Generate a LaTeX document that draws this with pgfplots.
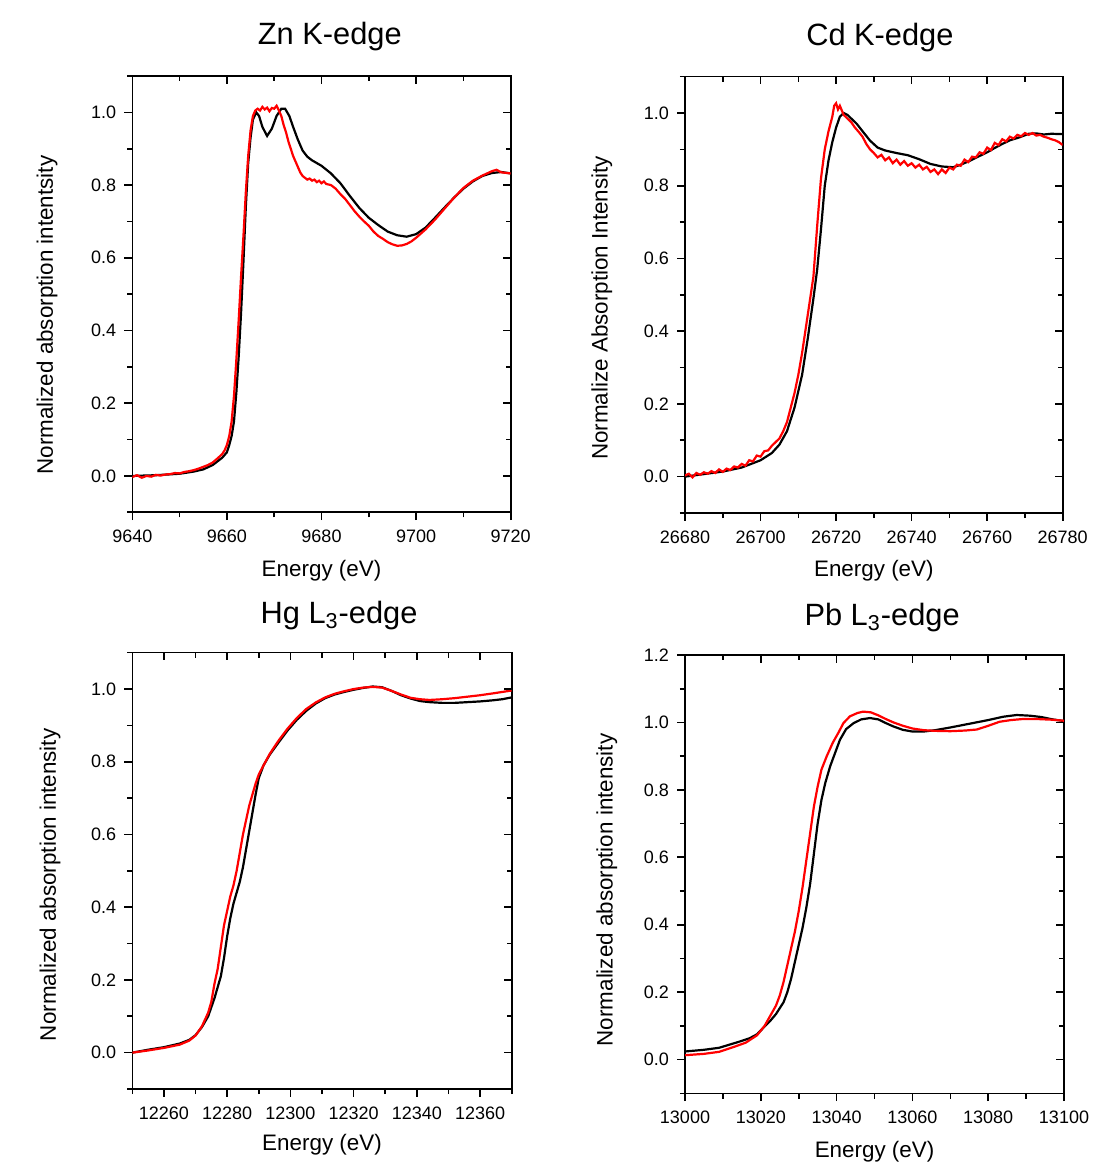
\documentclass[border=0pt]{standalone}
\usepackage{fontspec}
\setmainfont{Liberation Sans}
\usepackage{pgfplots}
\pgfplotsset{compat=1.18}
\pgfplotsset{
  common/.style={
    scale only axis,
    axis line style={line width=0.8pt},
    every tick/.style={black, line width=0.8pt},
    major tick length=3.9pt,
    minor tick length=2.6pt,
    scaled ticks=false,
    /pgf/number format/assume math mode=true,
    /pgf/number format/set thousands separator={},
  },
  mainax/.style={
    common,
    tick pos=left, tick align=outside,
    ticklabel style={font=\fontsize{9}{11}\selectfont},
    xticklabel style={yshift=-1.5pt, /pgf/number format/fixed, /pgf/number format/precision=0},
    yticklabel style={xshift=-0.6pt, /pgf/number format/fixed, /pgf/number format/fixed zerofill, /pgf/number format/precision=1},
    label style={font=\fontsize{11.2}{13}\selectfont},
    title style={font=\fontsize{15.4}{18}\selectfont, anchor=base},
    xlabel={Energy (eV)},
  },
  overax/.style={
    common,
    tick pos=right, tick align=inside,
    xticklabels={}, yticklabels={},
    ticklabel style={opacity=0},
    axis line style={draw=none},
  },
  blk/.style={black, line width=1.1pt},
  rd/.style={red, line width=1.1pt},
}
\begin{document}
\begin{tikzpicture}
\path[use as bounding box] (0,0) rectangle (552pt,583.5pt);
% ---------------- Zn ----------------
\begin{axis}[mainax, at={(66.15pt,327.35pt)}, anchor=south west, width=189.2pt, height=218.15pt,
  xmin=9640, xmax=9720, ymin=-0.1, ymax=1.1,
  xtick={9640,9660,9680,9700,9720}, minor xtick={9650,9670,9690,9710},
  ytick={0,0.2,0.4,0.6,0.8,1.0}, minor ytick={-0.1,0.1,0.3,0.5,0.7,0.9,1.1},
  title={Zn K-edge}, title style={at={(axis description cs:0.522,1)}, yshift=9.5pt},
  ylabel={Normalized absorption intentsity},
  xlabel style={at={(axis description cs:0.5,-0.133)}, anchor=center},
  ylabel style={at={(axis description cs:-0.225,0.452)}, anchor=center, rotate=0},
]
\addplot[blk] coordinates {
(9640,0.0)(9645,0.002)(9650,0.006)(9653,0.012)(9655,0.018)(9657,0.03)(9658,0.04)(9659,0.05)
(9660,0.065)(9660.5,0.085)(9661,0.11)(9661.5,0.15)(9662,0.23)(9662.5,0.33)(9663,0.45)(9663.5,0.59)
(9664,0.74)(9664.5,0.86)(9665,0.93)(9665.5,0.98)(9666.2,1.0)(9666.8,0.99)(9667.5,0.96)(9668.5,0.935)
(9669.5,0.955)(9670.5,0.99)(9671.5,1.01)(9672.3,1.01)(9673.2,0.99)(9674,0.96)(9675,0.925)(9676,0.895)
(9677,0.878)(9678,0.868)(9680,0.853)(9682,0.832)(9684,0.805)(9686,0.77)(9688,0.737)(9690,0.71)
(9692,0.69)(9694,0.672)(9696,0.662)(9698,0.658)(9700,0.665)(9702,0.683)(9704,0.71)(9706,0.738)
(9708,0.765)(9710,0.79)(9712,0.81)(9714,0.825)(9716,0.833)(9718,0.836)(9720,0.832)};
\addplot[rd] coordinates {
(9640,-0.003)(9641,0.002)(9642,-0.005)(9643,0.0)(9644,-0.002)(9645,0.003)(9646,0.001)(9647,0.004)
(9648,0.005)(9649,0.008)(9650,0.007)(9651,0.011)(9652,0.013)(9653,0.016)(9654,0.02)(9655,0.025)
(9656,0.03)(9657,0.037)(9658,0.048)(9659,0.06)(9659.5,0.07)(9660,0.085)(9660.5,0.11)(9661,0.15)
(9661.5,0.22)(9662,0.32)(9662.5,0.43)(9663,0.55)(9663.5,0.66)(9664,0.78)(9664.5,0.88)(9665,0.95)
(9665.5,0.99)(9666,1.005)(9666.5,1.01)(9667,1.005)(9667.5,1.015)(9668,1.008)(9668.5,1.013)(9669,1.003)
(9669.5,1.012)(9670,1.01)(9670.5,1.018)(9671,1.005)(9671.5,0.99)(9672,0.965)(9672.5,0.945)(9673,0.92)
(9673.5,0.9)(9674,0.88)(9674.5,0.865)(9675,0.85)(9675.5,0.835)(9676,0.825)(9676.5,0.82)(9677,0.815)
(9677.5,0.818)(9678,0.812)(9678.5,0.815)(9679,0.808)(9679.5,0.812)(9680,0.805)(9680.5,0.81)(9681,0.803)
(9682,0.8)(9683,0.79)(9684,0.775)(9685,0.762)(9686,0.745)(9687,0.728)(9688,0.713)(9689,0.7)
(9690,0.688)(9691,0.672)(9692,0.66)(9693,0.652)(9694,0.643)(9695,0.637)(9696,0.633)(9697,0.634)
(9698,0.638)(9699,0.645)(9700,0.655)(9702,0.678)(9704,0.705)(9706,0.735)(9708,0.765)(9710,0.792)
(9712,0.812)(9714,0.826)(9716,0.838)(9717,0.842)(9718,0.835)(9720,0.832)};
\end{axis}
\begin{axis}[overax, at={(66.15pt,327.35pt)}, anchor=south west, width=189.2pt, height=218.15pt,
  xmin=9640, xmax=9720, ymin=-0.1, ymax=1.1,
  xtick={9640,9660,9680,9700,9720}, minor xtick={9650,9670,9690,9710},
  ytick={0,0.2,0.4,0.6,0.8,1.0}, minor ytick={-0.1,0.1,0.3,0.5,0.7,0.9,1.1}]
\end{axis}
% ---------------- Cd ----------------
\begin{axis}[mainax, at={(342.5pt,327pt)}, anchor=south west, width=188.85pt, height=218.15pt,
  xmin=26680, xmax=26780, ymin=-0.1, ymax=1.1,
  xtick={26680,26700,26720,26740,26760,26780}, minor xtick={26690,26710,26730,26750,26770},
  ytick={0,0.2,0.4,0.6,0.8,1.0}, minor ytick={-0.1,0.1,0.3,0.5,0.7,0.9,1.1},
  title={Cd K-edge}, title style={at={(axis description cs:0.516,1)}, yshift=9.5pt},
  ylabel={Normalize Absorption Intensity},
  xlabel style={at={(axis description cs:0.5,-0.133)}, anchor=center},
  ylabel style={at={(axis description cs:-0.22,0.47)}, anchor=center, rotate=0},
]
\addplot[blk] coordinates {
(26680,0.0)(26685,0.007)(26690,0.014)(26695,0.025)(26700,0.045)(26703,0.065)(26705,0.088)(26707,0.125)
(26709,0.19)(26711,0.28)(26712.5,0.38)(26714,0.49)(26715,0.57)(26716,0.68)(26717,0.8)(26718,0.87)
(26719,0.92)(26720,0.96)(26721,0.99)(26722,1.0)(26723,0.995)(26724,0.985)(26725.5,0.97)(26727,0.95)
(26729,0.924)(26731,0.905)(26733,0.897)(26736,0.89)(26739,0.884)(26742,0.873)(26745,0.86)(26748,0.853)
(26751,0.851)(26753,0.858)(26755.5,0.869)(26758,0.882)(26760,0.892)(26762,0.904)(26764,0.915)(26766,0.925)
(26768.5,0.933)(26771,0.943)(26773,0.944)(26775,0.941)(26777,0.943)(26780,0.942)};
\addplot[rd] coordinates {
(26680,0.003)(26681,0.008)(26682,-0.002)(26683,0.01)(26684,0.005)(26685,0.012)(26686,0.008)(26687,0.015)
(26688,0.01)(26689,0.02)(26690,0.013)(26691,0.022)(26692,0.018)(26693,0.028)(26694,0.025)(26695,0.035)
(26696,0.03)(26697,0.045)(26698,0.042)(26699,0.058)(26700,0.055)(26701,0.07)(26702,0.072)(26703,0.085)
(26704,0.095)(26705,0.105)(26706,0.125)(26707,0.15)(26708,0.19)(26709,0.23)(26710,0.28)(26711,0.34)
(26712,0.41)(26713,0.48)(26714,0.55)(26715,0.69)(26716,0.82)(26717,0.9)(26718,0.95)(26719,0.99)
(26719.5,1.02)(26720,1.027)(26720.5,1.01)(26721,1.02)(26722,0.995)(26723,0.985)(26724,0.975)(26725,0.96)
(26726,0.948)(26727,0.935)(26728,0.915)(26729,0.9)(26730,0.89)(26731,0.878)(26732,0.885)(26733,0.87)
(26734,0.878)(26735,0.862)(26736,0.872)(26737,0.858)(26738,0.868)(26739,0.855)(26740,0.862)(26741,0.85)
(26742,0.858)(26743,0.845)(26744,0.852)(26745,0.838)(26746,0.845)(26747,0.832)(26748,0.845)(26749,0.835)
(26750,0.85)(26751,0.845)(26752,0.858)(26753,0.855)(26754,0.872)(26755,0.865)(26756,0.88)(26757,0.878)
(26758,0.892)(26759,0.888)(26760,0.905)(26761,0.898)(26762,0.918)(26763,0.912)(26764,0.928)(26765,0.922)
(26766,0.935)(26767,0.93)(26768,0.94)(26769,0.936)(26770,0.945)(26771,0.94)(26772,0.945)(26773,0.938)
(26774,0.94)(26775,0.935)(26776,0.932)(26777,0.928)(26778,0.925)(26779,0.92)(26780,0.912)};
\end{axis}
\begin{axis}[overax, at={(342.5pt,327pt)}, anchor=south west, width=188.85pt, height=218.15pt,
  xmin=26680, xmax=26780, ymin=-0.1, ymax=1.1,
  xtick={26680,26700,26720,26740,26760,26780}, minor xtick={26690,26710,26730,26750,26770},
  ytick={0,0.2,0.4,0.6,0.8,1.0}, minor ytick={-0.1,0.1,0.3,0.5,0.7,0.9,1.1}]
\end{axis}
% ---------------- Hg ----------------
\begin{axis}[mainax, at={(66.15pt,39pt)}, anchor=south west, width=189.7pt, height=218.15pt,
  xmin=12250, xmax=12370, ymin=-0.1, ymax=1.1,
  xtick={12260,12280,12300,12320,12340,12360}, minor xtick={12250,12270,12290,12310,12330,12350,12370},
  ytick={0,0.2,0.4,0.6,0.8,1.0}, minor ytick={-0.1,0.1,0.3,0.5,0.7,0.9,1.1},
  title={Hg L\textsubscript{3}-edge}, title style={at={(axis description cs:0.545,1)}, yshift=8.8pt},
  ylabel={Normalized absorption intensity},
  xlabel style={at={(axis description cs:0.5,-0.128)}, anchor=center},
  ylabel style={at={(axis description cs:-0.217,0.468)}, anchor=center, rotate=0},
]
\addplot[blk] coordinates {
(12250,0.0)(12255,0.008)(12260,0.015)(12265,0.025)(12268,0.035)(12270,0.048)(12272,0.07)(12274,0.1)
(12276,0.15)(12277,0.18)(12278,0.21)(12279,0.26)(12280,0.32)(12281,0.37)(12282,0.41)(12283,0.44)
(12284,0.47)(12285,0.51)(12286,0.56)(12287,0.61)(12288,0.66)(12289,0.71)(12290,0.755)(12291.5,0.79)
(12293.5,0.82)(12296,0.85)(12299,0.885)(12302,0.915)(12305,0.94)(12308,0.96)(12311,0.975)(12314,0.985)
(12317,0.992)(12320,0.998)(12323,1.003)(12326,1.007)(12329,1.005)(12332,0.995)(12335,0.983)(12338,0.974)
(12341,0.967)(12344,0.964)(12348,0.962)(12352,0.962)(12356,0.964)(12360,0.966)(12364,0.969)(12367,0.972)(12370,0.977)};
\addplot[rd] coordinates {
(12250,0.0)(12255,0.006)(12260,0.013)(12265,0.022)(12268,0.033)(12270,0.047)(12272,0.072)(12274,0.11)
(12275,0.14)(12276,0.19)(12277,0.23)(12278,0.29)(12279,0.35)(12280,0.39)(12281,0.43)(12282,0.46)
(12283,0.5)(12284,0.55)(12285,0.6)(12286,0.64)(12287,0.68)(12288,0.71)(12289,0.74)(12290,0.765)
(12291.5,0.79)(12293.5,0.822)(12296,0.855)(12299,0.89)(12302,0.92)(12305,0.945)(12308,0.963)(12311,0.977)
(12314,0.987)(12317,0.994)(12320,1.0)(12323,1.004)(12326,1.006)(12329,1.004)(12332,0.995)(12335,0.985)
(12338,0.976)(12341,0.972)(12344,0.97)(12348,0.972)(12352,0.975)(12356,0.979)(12360,0.983)(12364,0.988)(12367,0.992)(12370,0.996)};
\end{axis}
\begin{axis}[overax, at={(66.15pt,39pt)}, anchor=south west, width=189.7pt, height=218.15pt,
  xmin=12250, xmax=12370, ymin=-0.1, ymax=1.1,
  xtick={12260,12280,12300,12320,12340,12360}, minor xtick={12250,12270,12290,12310,12330,12350,12370},
  ytick={0,0.2,0.4,0.6,0.8,1.0}, minor ytick={-0.1,0.1,0.3,0.5,0.7,0.9,1.1}]
\end{axis}
% ---------------- Pb ----------------
\begin{axis}[mainax, at={(342.5pt,36.85pt)}, anchor=south west, width=189.5pt, height=219.15pt,
  xmin=13000, xmax=13100, ymin=-0.1, ymax=1.2,
  xtick={13000,13020,13040,13060,13080,13100}, minor xtick={13010,13030,13050,13070,13090},
  ytick={0,0.2,0.4,0.6,0.8,1.0,1.2}, minor ytick={-0.1,0.1,0.3,0.5,0.7,0.9,1.1},
  title={Pb L\textsubscript{3}-edge}, title style={at={(axis description cs:0.52,1)}, yshift=8.8pt},
  ylabel={Normalized absorption intensity},
  xlabel style={at={(axis description cs:0.5,-0.133)}, anchor=center},
  ylabel style={at={(axis description cs:-0.206,0.464)}, anchor=center, rotate=0},
]
\addplot[blk] coordinates {
(13000,0.024)(13005,0.029)(13009,0.035)(13014,0.052)(13017,0.063)(13019,0.075)(13021,0.098)(13022.5,0.115)
(13024,0.135)(13026,0.17)(13027,0.2)(13028,0.24)(13029,0.29)(13030,0.34)(13031,0.39)(13032,0.45)
(13033,0.52)(13034,0.61)(13035,0.7)(13036,0.77)(13037,0.82)(13038.3,0.87)(13040.9,0.949)(13042.5,0.98)
(13044.5,0.998)(13046.5,1.009)(13048.8,1.013)(13051,1.009)(13053,0.998)(13055,0.988)(13057.5,0.978)(13060,0.973)
(13063,0.973)(13066,0.977)(13070,0.985)(13075,0.996)(13080,1.007)(13084,1.017)(13087.5,1.022)(13091,1.02)
(13094,1.016)(13097,1.009)(13100,1.004)};
\addplot[rd] coordinates {
(13000,0.013)(13005,0.017)(13009,0.023)(13013,0.038)(13016,0.05)(13019,0.072)(13021,0.1)(13022.5,0.13)
(13024,0.16)(13025,0.19)(13026,0.23)(13027,0.28)(13028,0.33)(13029,0.38)(13030,0.44)(13031,0.51)
(13032,0.59)(13033,0.67)(13034,0.75)(13035,0.81)(13036,0.86)(13037.4,0.9)(13039,0.94)(13040.5,0.97)
(13041.8,0.998)(13043.5,1.018)(13045.5,1.028)(13047,1.032)(13049,1.03)(13051,1.021)(13053,1.01)(13055,1.0)
(13057.5,0.99)(13060,0.982)(13063,0.977)(13066,0.975)(13070,0.974)(13074,0.976)(13077,0.979)(13080,0.99)
(13083,1.002)(13086,1.007)(13089,1.01)(13093,1.01)(13097,1.008)(13100,1.005)};
\end{axis}
\begin{axis}[overax, at={(342.5pt,36.85pt)}, anchor=south west, width=189.5pt, height=219.15pt,
  xmin=13000, xmax=13100, ymin=-0.1, ymax=1.2,
  xtick={13000,13020,13040,13060,13080,13100}, minor xtick={13010,13030,13050,13070,13090},
  ytick={0,0.2,0.4,0.6,0.8,1.0,1.2}, minor ytick={-0.1,0.1,0.3,0.5,0.7,0.9,1.1}]
\end{axis}
\end{tikzpicture}
\end{document}
